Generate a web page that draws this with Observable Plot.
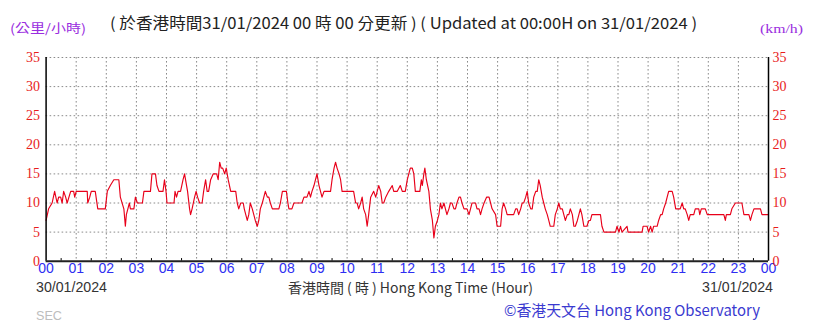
<!DOCTYPE html>
<html><head><meta charset="utf-8">
<script src="https://cdn.jsdelivr.net/npm/d3@7"></script>
<script src="https://cdn.jsdelivr.net/npm/@observablehq/plot@0.6"></script>
<style>
body{margin:0;background:#fff}
#wrap{position:relative;width:819px;height:323px;overflow:hidden}
.t{position:absolute;white-space:nowrap;line-height:1}
</style></head><body><div id="wrap"></div>
<script>
// time in minutes after 00:00 HKT 30/01/2024, wind speed km/h
const minutes = [0,5,12,17,22,25,29,32,35,39,42,49,55,57,60,82,83,87,90,98,103,118,122,128,135,145,148,155,158,160,163,166,168,175,178,182,192,195,208,211,218,221,225,233,236,239,241,255,257,260,263,268,273,276,280,282,286,288,291,296,299,302,306,311,314,318,321,324,328,333,340,343,346,349,352,356,359,363,368,378,381,384,388,393,395,401,404,407,411,414,417,421,424,427,431,434,437,441,444,447,451,464,467,471,479,482,484,490,494,510,514,520,524,527,530,534,537,540,544,547,550,554,567,570,574,577,580,584,587,590,613,617,620,623,627,630,633,637,640,643,647,653,657,660,663,667,670,673,677,683,690,693,700,706,710,716,720,723,726,730,733,736,745,748,750,753,755,758,763,766,770,773,776,780,783,786,789,793,796,799,803,806,809,813,816,819,823,826,829,833,839,843,846,849,856,859,863,866,869,873,878,883,886,889,896,899,906,909,912,916,919,932,936,939,942,946,949,952,956,959,962,966,969,972,976,979,982,985,989,992,995,999,1002,1005,1012,1015,1019,1022,1025,1029,1032,1035,1039,1042,1045,1049,1052,1055,1059,1062,1065,1068,1072,1078,1082,1085,1088,1105,1108,1112,1135,1138,1142,1145,1148,1158,1160,1188,1190,1198,1201,1205,1208,1211,1218,1221,1225,1228,1231,1235,1238,1241,1248,1251,1255,1264,1268,1271,1274,1278,1281,1284,1291,1294,1301,1303,1306,1314,1318,1351,1354,1356,1364,1367,1374,1387,1391,1401,1404,1407,1411,1424,1427,1440];
const speeds = [7,9,10,12,10,11,11,10,12,11,10,12,12,11,12,12,10,11,12,12,9,9,12,13,14,14,11,9,6,8,9,10,9,9,11,10,10,12,12,15,15,13,12,12,14,12,10,10,12,11,12,12,14,15,13,12,9,8,9,11,12,11,10,10,12,14,12,12,14,15,15,14,17,16,16,15,16,14,12,12,10,9,10,10,9,7,8,10,9,8,7,6,7,9,10,11,12,11,11,10,9,9,10,12,12,10,9,9,10,10,11,11,12,11,12,13,14,15,13,12,11,12,12,14,16,17,16,15,14,12,12,10,10,9,10,11,9,8,6,8,11,12,11,12,13,12,10,10,11,12,13,12,12,13,12,12,14,15,16,16,15,12,12,14,13,15,16,14,12,9,7,4,6,7,8,10,9,10,9,8,9,10,10,9,9,10,11,11,10,9,9,8,9,10,10,9,9,8,9,10,11,11,10,9,8,6,6,9,10,9,8,8,9,9,8,9,10,10,11,12,10,9,9,11,12,12,14,13,11,10,9,8,7,6,6,8,9,10,9,9,8,7,8,8,9,8,6,6,7,8,9,8,6,6,7,7,8,8,6,5,5,6,5,6,5,6,5,5,6,6,5,6,5,6,6,7,8,8,9,10,11,12,12,11,9,9,10,9,9,8,7,8,8,9,9,8,9,9,8,8,7,8,8,9,10,10,8,8,7,8,9,9,8,8];
const hourTicks = d3.range(0, 25);
const halfHourTicks = d3.range(0.5, 24, 1);
const speedTicks = [0, 5, 10, 15, 20, 25, 30, 35];
const hourLabel = h => String(h % 24).padStart(2, "0");

const data = minutes.map((m, i) => ({h: m / 60, v: speeds[i]}));
const grid = {stroke: "#8a8a8a", strokeOpacity: 1, strokeDasharray: "1.6,2.4", strokeWidth: 1};
const serif = "'Liberation Serif', 'DejaVu Serif', serif";

const chart = Plot.plot({
  width: 819, height: 323,
  marginLeft: 45.6, marginRight: 51, marginTop: 57, marginBottom: 62.3,
  x: {domain: [0, 24], axis: null, label: null},
  y: {domain: [0, 35], axis: null, label: null},
  marks: [
    Plot.gridX(hourTicks.slice(1, -1), grid),
    Plot.gridY(speedTicks.slice(1), grid),
    Plot.line(data, {x: "h", y: "v", stroke: "#e8001a", strokeWidth: 1.15}),
    Plot.ruleX(halfHourTicks, {y1: 0, y2: 0.45, stroke: "#000", strokeWidth: 1}),
    Plot.ruleX([0, 24], {stroke: "#000", strokeWidth: 1.5}),
    Plot.ruleY([0], {stroke: "#222", strokeWidth: 2}),
    Plot.axisX(hourTicks, {anchor: "bottom", label: null, tickSize: 0, tickPadding: 2, tickFormat: hourLabel,
      fill: "#2e2ef2", fontSize: 14, fontFamily: "'Liberation Sans', Arial, sans-serif"}),
    Plot.axisY(speedTicks, {anchor: "left", label: null, tickSize: 0, tickPadding: 6, fill: "#e81c1c",
      fontSize: 14, fontFamily: serif}),
    Plot.axisY(speedTicks, {anchor: "right", label: null, tickSize: 0, tickPadding: 4, fill: "#e81c1c",
      fontSize: 14, fontFamily: serif})
  ]
});
const wrap = document.getElementById("wrap");
wrap.appendChild(chart);

const texts = [
  {s: "( 於香港時間31/01/2024 00 時 00 分更新 ) ( Updated at 00:00H on 31/01/2024 )", x: 110, y: 15, size: 15.5, color: "#222", font: "'Noto Sans CJK TC', sans-serif", w: 587},
  {s: "(公里/小時)", x: 10, y: 22, size: 12.5, color: "#9a2ee0", font: "'Noto Sans CJK TC', sans-serif", w: 76},
  {s: "(km/h)", x: 760, y: 22, size: 13, color: "#9a2ee0", font: serif, w: 43},
  {s: "30/01/2024", x: 36, y: 280, size: 14, color: "#333", font: "'Liberation Sans', sans-serif", w: 71},
  {s: "香港時間 ( 時 ) Hong Kong Time (Hour)", x: 288, y: 280, size: 14, color: "#333", font: "'Noto Sans CJK TC', sans-serif", w: 245},
  {s: "31/01/2024", x: 702, y: 280, size: 14, color: "#333", font: "'Liberation Sans', sans-serif", w: 71},
  {s: "©香港天文台 Hong Kong Observatory", x: 504, y: 302, size: 15, color: "#3a3ad0", font: "'Noto Sans CJK TC', sans-serif", w: 256},
  {s: "SEC", x: 36, y: 310, size: 12, color: "#bdbdbd", font: "'Liberation Sans', sans-serif", w: 26}
];
for (const t of texts) {
  const el = document.createElement("span");
  el.className = "t";
  el.textContent = t.s;
  Object.assign(el.style, {left: t.x + "px", top: t.y + "px", fontSize: t.size + "px", color: t.color, fontFamily: t.font, transformOrigin: "0 0"});
  wrap.appendChild(el);
  const w = el.getBoundingClientRect().width;
  if (w > 0) el.style.transform = `scaleX(${t.w / w})`;
}
</script></body></html>
